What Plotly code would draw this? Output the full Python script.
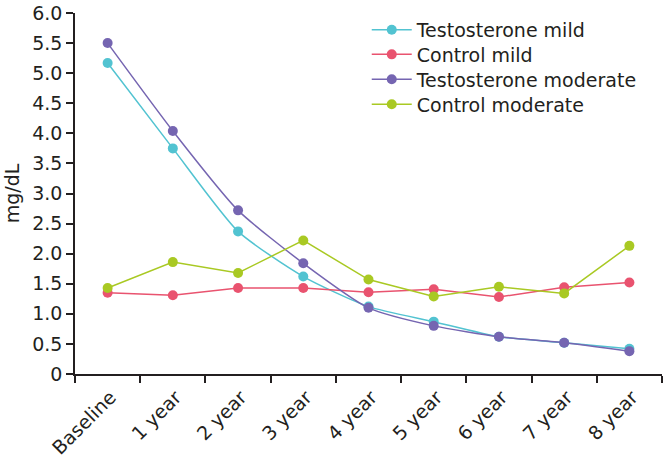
import plotly.graph_objects as go

categories = ["Baseline", "1 year", "2 year", "3 year", "4 year", "5 year", "6 year", "7 year", "8 year"]
testo_mild = [5.17, 3.75, 2.37, 1.62, 1.12, 0.87, 0.62, 0.52, 0.42]
control_mild = [1.35, 1.31, 1.43, 1.43, 1.36, 1.41, 1.28, 1.44, 1.52]
testo_moderate = [5.50, 4.04, 2.72, 1.84, 1.10, 0.80, 0.62, 0.52, 0.38]
control_moderate = [1.43, 1.86, 1.68, 2.22, 1.57, 1.29, 1.45, 1.34, 2.13]
y_ticks = [0, 0.5, 1.0, 1.5, 2.0, 2.5, 3.0, 3.5, 4.0, 4.5, 5.0, 5.5, 6.0]
y_tick_text = ["0", "0.5", "1.0", "1.5", "2.0", "2.5", "3.0", "3.5", "4.0", "4.5", "5.0", "5.5", "6.0"]

series = [
    ("Testosterone mild", testo_mild, "#52c3d1", "spline"),
    ("Control mild", control_mild, "#e9536f", "linear"),
    ("Testosterone moderate", testo_moderate, "#7565b1", "spline"),
    ("Control moderate", control_moderate, "#a9c923", "linear"),
]
legend_names = ["legend", "legend2", "legend3", "legend4"]
legend_y = [0.953, 0.885, 0.816, 0.747]

FONT = "DejaVu Sans, Liberation Sans, Arial, sans-serif"

fig = go.Figure()
for (name, vals, color, shape), lg in zip(series, legend_names):
    fig.add_trace(go.Scatter(
        x=categories, y=vals, name=name, mode="lines+markers",
        line=dict(color=color, width=1.5, shape=shape, smoothing=0.6),
        marker=dict(color=color, size=10),
        legend=lg,
    ))

legend_common = dict(xanchor="left", yanchor="middle", font=dict(size=19, family=FONT),
                     bgcolor="rgba(0,0,0,0)", itemwidth=40)
legends = {}
for lg, ly in zip(legend_names, legend_y):
    legends[lg] = dict(x=0.497, y=ly, **legend_common)

fig.update_layout(
    width=664, height=461,
    margin=dict(l=75, r=2, t=9, b=86),
    paper_bgcolor="white", plot_bgcolor="white",
    font=dict(family=FONT, size=19, color="#231f20"),
    showlegend=True,
    xaxis=dict(
        type="category", range=[-0.5, 8.5], tickson="boundaries",
        ticks="outside", ticklen=7, tickcolor="#231f20", tickwidth=1.5,
        showline=True, linecolor="#231f20", linewidth=1.5,
        showgrid=False, tickangle=-45, tickfont=dict(size=19),
        ticklabelshift=3, ticklabelstandoff=3,
    ),
    yaxis=dict(
        range=[0, 6], tickvals=y_ticks, ticktext=y_tick_text,
        ticks="outside", ticklen=7, tickcolor="#231f20", tickwidth=1.5,
        showline=True, linecolor="#231f20", linewidth=1.5,
        showgrid=False, zeroline=False, tickfont=dict(size=19),
        ticklabeloverflow="allow",
        title=dict(text="mg/dL", font=dict(size=19), standoff=8),
    ),
    **legends,
)

fig.write_html("out.html", config={"displayModeBar": False},
               post_script="document.body.style.margin='0';")
